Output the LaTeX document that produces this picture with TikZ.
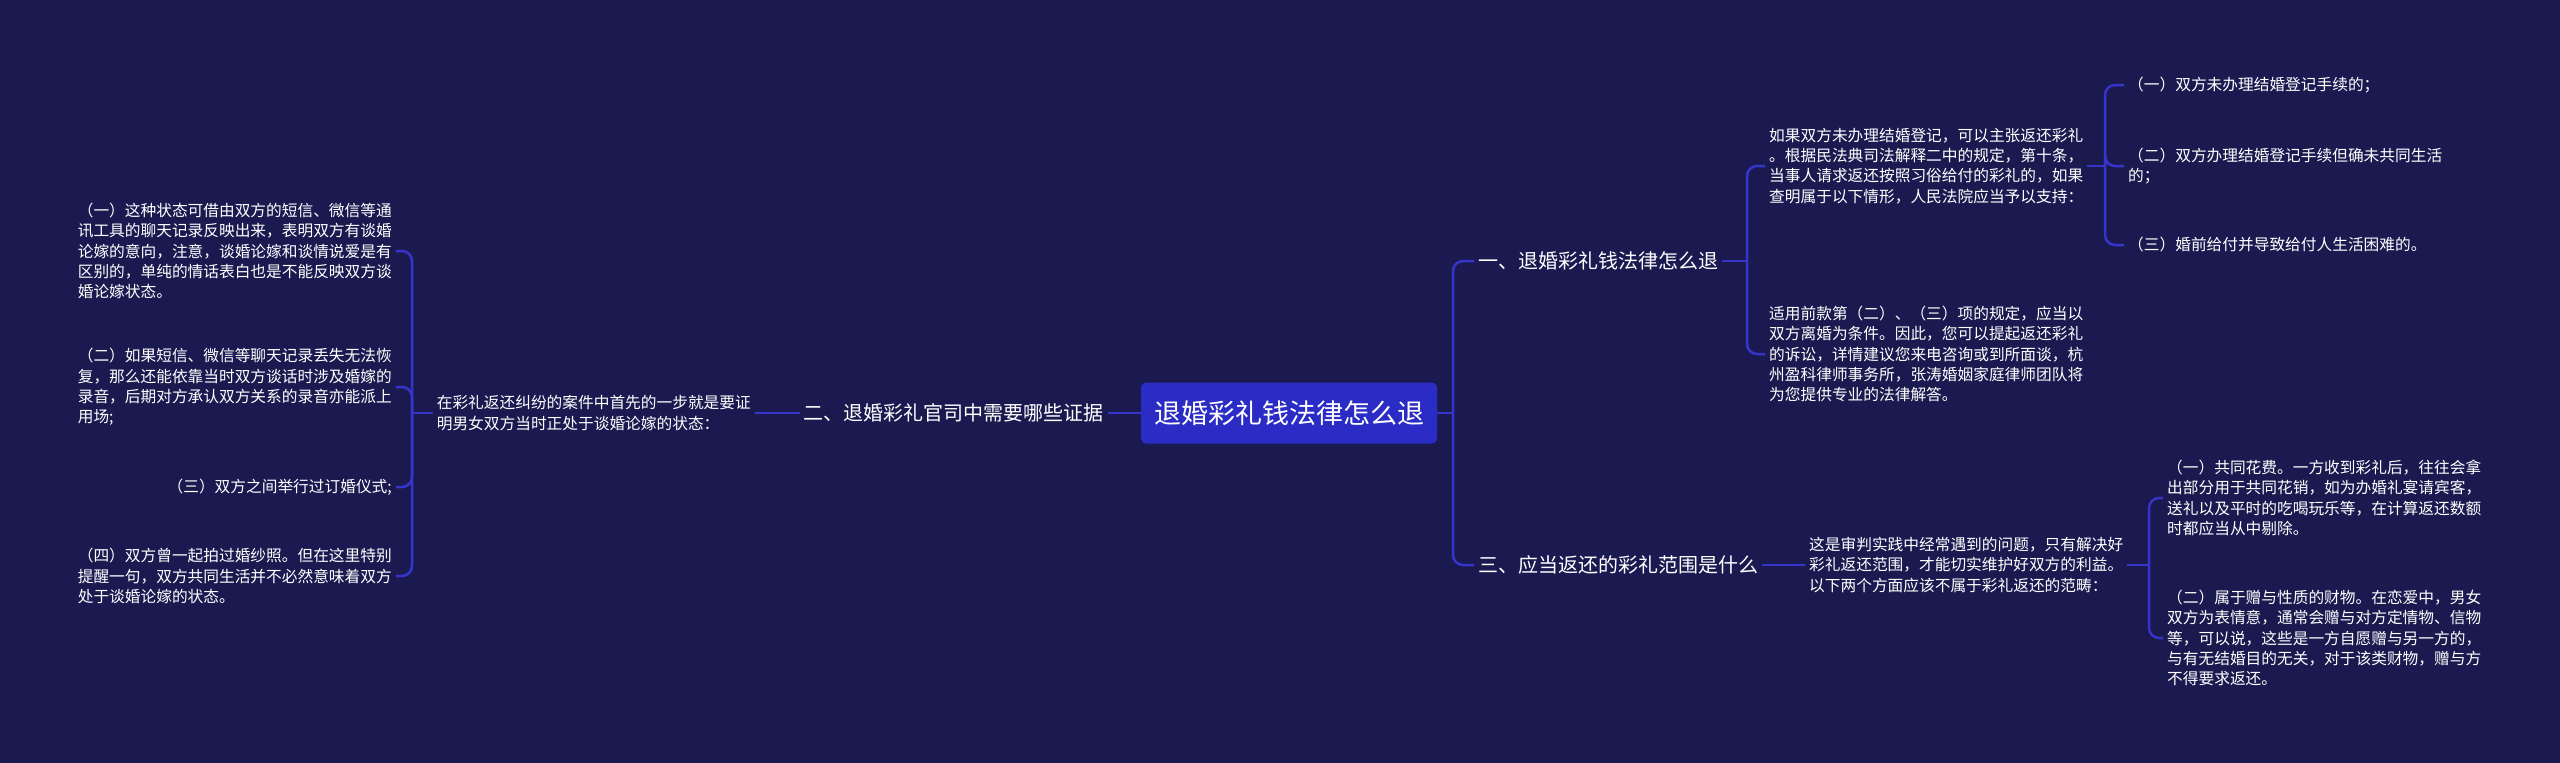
\documentclass[tikz,border=0pt]{standalone}
\usepackage{fontspec}
\setmainfont{Noto Sans CJK SC}
\usepackage{xcolor}
\usepackage{tikz}
\usetikzlibrary{positioning,calc}
\definecolor{mapbg}{HTML}{1B1A50}
\definecolor{rootfill}{HTML}{2B2BC6}
\definecolor{linkblue}{HTML}{3535CC}

\begin{document}
\begin{tikzpicture}[
  x=1pt,y=-1pt,
  topic/.style={fill=rootfill,rounded corners=5pt,minimum width=296pt,minimum height=61pt,
                text=white,font={\fontsize{27}{32}\selectfont}},
  sub/.style={text=white,inner sep=4pt,font={\fontsize{20}{24}\selectfont}},
  leaf/.style={text=white,inner sep=4pt,align=left,font={\fontsize{15.7}{20.3}\selectfont}},
  link/.style={draw=linkblue,line width=2.5pt},
  elbow/.style={link,rounded corners=10pt}
]
\fill[mapbg] (0,0) rectangle (2560,763);
\node[topic] (root) at (1289,413) {退婚彩礼钱法律怎么退};
% left side
\node[sub,anchor=east] (l2) at (1108,413) {二、退婚彩礼官司中需要哪些证据};
\node[leaf,anchor=east] (ev) at (755,413)
  {在彩礼返还纠纷的案件中首先的一步就是要证\\明男女双方当时正处于谈婚论嫁的状态：};
\node[leaf,anchor=east] (ev1) at (396,251)
  {（一）这种状态可借由双方的短信、微信等通\\讯工具的聊天记录反映出来，表明双方有谈婚\\论嫁的意向，注意，谈婚论嫁和谈情说爱是有\\区别的，单纯的情话表白也是不能反映双方谈\\婚论嫁状态。};
\node[leaf,anchor=east] (ev2) at (396,387)
  {（二）如果短信、微信等聊天记录丢失无法恢\\复，那么还能依靠当时双方谈话时涉及婚嫁的\\录音，后期对方承认双方关系的录音亦能派上\\用场;};
\node[leaf,anchor=east] (ev3) at (396,487) {（三）双方之间举行过订婚仪式;};
\node[leaf,anchor=east] (ev4) at (396,576)
  {（四）双方曾一起拍过婚纱照。但在这里特别\\提醒一句，双方共同生活并不必然意味着双方\\处于谈婚论嫁的状态。};
% right side
\node[sub,anchor=west] (r1) at (1474,261) {一、退婚彩礼钱法律怎么退};
\node[sub,anchor=west] (r3) at (1474,565) {三、应当返还的彩礼范围是什么};
\node[leaf,anchor=west] (law) at (1765,166)
  {如果双方未办理结婚登记，可以主张返还彩礼\\。根据民法典司法解释二中的规定，第十条，\\当事人请求返还按照习俗给付的彩礼的，如果\\查明属于以下情形，人民法院应当予以支持：};
\node[leaf,anchor=west] (cond) at (1765,354)
  {适用前款第（二）、（三）项的规定，应当以\\双方离婚为条件。因此，您可以提起返还彩礼\\的诉讼，详情建议您来电咨询或到所面谈，杭\\州盈科律师事务所，张涛婚姻家庭律师团队将\\为您提供专业的法律解答。};
\node[leaf,anchor=west] (law1) at (2124,85) {（一）双方未办理结婚登记手续的；};
\node[leaf,anchor=west] (law2) at (2124,166) {（二）双方办理结婚登记手续但确未共同生活\\的；};
\node[leaf,anchor=west] (law3) at (2124,245) {（三）婚前给付并导致给付人生活困难的。};
\node[leaf,anchor=west] (scope) at (1805,565)
  {这是审判实践中经常遇到的问题，只有解决好\\彩礼返还范围，才能切实维护好双方的利益。\\以下两个方面应该不属于彩礼返还的范畴：};
\node[leaf,anchor=west] (sc1) at (2163,498)
  {（一）共同花费。一方收到彩礼后，往往会拿\\出部分用于共同花销，如为办婚礼宴请宾客，\\送礼以及平时的吃喝玩乐等，在计算返还数额\\时都应当从中剔除。};
\node[leaf,anchor=west] (sc2) at (2163,638)
  {（二）属于赠与性质的财物。在恋爱中，男女\\双方为表情意，通常会赠与对方定情物、信物\\等，可以说，这些是一方自愿赠与另一方的，\\与有无结婚目的无关，对于该类财物，赠与方\\不得要求返还。};
% junctions
\coordinate (jl) at (412,413);
\coordinate (jr) at (1453,413);
\coordinate (ja) at (1747,261);
\coordinate (jb) at (2105,166);
\coordinate (jc) at (2149,565);
\draw[link] (root) -- (l2);
\draw[link] (l2) -- (ev);
\draw[link] (ev.west) -- (jl);
\foreach \c in {ev1,ev2,ev3,ev4} \draw[elbow] (jl) |- (\c.east);
\draw[link] (root.east) -- (jr);
\foreach \c in {r1,r3} \draw[elbow] (jr) |- (\c.west);
\draw[link] (r1.east) -- (ja);
\foreach \c in {law,cond} \draw[elbow] (ja) |- (\c.west);
\draw[link] (law.east) -- (jb);
\foreach \c in {law1,law2,law3} \draw[elbow] (jb) |- (\c.west);
\draw[link] (r3) -- (scope);
\draw[link] (scope.east) -- (jc);
\foreach \c in {sc1,sc2} \draw[elbow] (jc) |- (\c.west);
\end{tikzpicture}
\end{document}
